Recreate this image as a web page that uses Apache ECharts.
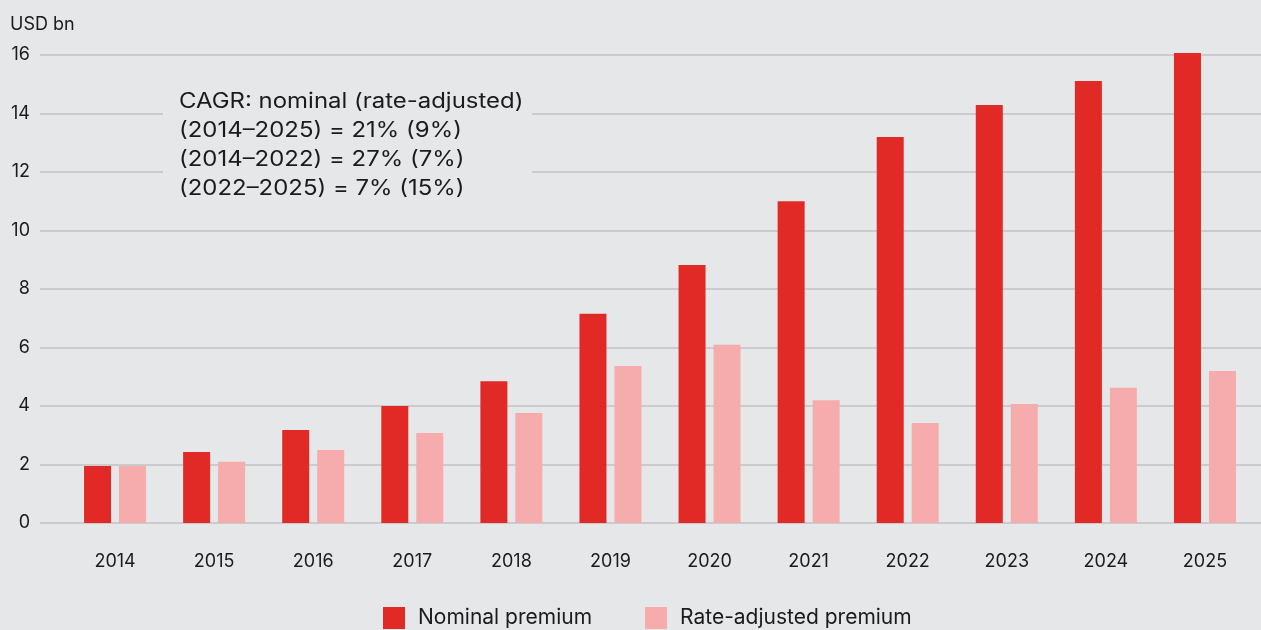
<!DOCTYPE html>
<html>
<head>
<meta charset="utf-8">
<script src="https://cdn.jsdelivr.net/npm/echarts@6/dist/echarts.min.js"></script>
<style>
  html, body { margin: 0; padding: 0; background: #e6e7e9; }
  #chart { width: 1261px; height: 630px; }
</style>
</head>
<body>
<div id="chart"></div>
<script>
// Premium volumes, USD bn
const years = ['2014', '2015', '2016', '2017', '2018', '2019', '2020', '2021', '2022', '2023', '2024', '2025'];
const nominalPremium = [1.95, 2.43, 3.18, 4.0, 4.85, 7.15, 8.82, 11.0, 13.2, 14.29, 15.11, 16.07];
const rateAdjustedPremium = [1.95, 2.09, 2.5, 3.08, 3.76, 5.37, 6.09, 4.2, 3.42, 4.07, 4.62, 5.2];
const seriesNames = ['Nominal premium', 'Rate-adjusted premium'];
const unitLabel = 'USD bn';
const cagrLines = [
  'CAGR: nominal (rate-adjusted)',
  '(2014\u20132025) = 21% (9%)',
  '(2014\u20132022) = 27% (7%)',
  '(2022\u20132025) = 7% (15%)'
];

const BG = '#e6e7e9';
const TEXT = '#1b1b1b';
const FONT = 'Inter';

const chart = echarts.init(document.getElementById('chart'));
chart.setOption({
  backgroundColor: BG,
  animation: false,
  textStyle: { fontFamily: FONT, color: TEXT },
  grid: [
    // bars
    { left: 65.5, right: 6.5, top: 55, bottom: 107 },
    // value scale and gridlines spanning the full width
    { left: 40, right: 0, top: 55, bottom: 107 }
  ],
  xAxis: [
    {
      type: 'category',
      gridIndex: 0,
      data: years,
      axisLine: { show: false },
      axisTick: { show: false },
      axisLabel: { fontSize: 18, color: TEXT, margin: 30, fontFamily: FONT }
    },
    { type: 'value', gridIndex: 1, show: false, min: 0, max: 1 }
  ],
  yAxis: [
    { type: 'value', gridIndex: 0, min: 0, max: 16, interval: 2, show: false },
    {
      type: 'value',
      gridIndex: 1,
      min: 0,
      max: 16,
      interval: 2,
      axisLine: { show: false },
      axisTick: { show: false },
      axisLabel: { fontSize: 18, color: TEXT, margin: 10, fontFamily: FONT },
      splitLine: { lineStyle: { color: '#c2c2c3', width: 1.5 } }
    }
  ],
  legend: {
    data: seriesNames,
    left: 383,
    top: 607,
    padding: 0,
    icon: 'rect',
    itemWidth: 22,
    itemHeight: 22,
    itemGap: 53,
    textStyle: { fontSize: 21, color: TEXT, fontFamily: FONT, padding: [6, 0, 0, 8] }
  },
  series: [
    {
      name: seriesNames[0],
      type: 'bar',
      xAxisIndex: 0,
      yAxisIndex: 0,
      data: nominalPremium,
      barWidth: 27,
      barGap: '29.6%',
      clip: false,
      itemStyle: { color: '#e12a26' },
      z: 3
    },
    {
      name: seriesNames[1],
      type: 'bar',
      xAxisIndex: 0,
      yAxisIndex: 0,
      data: rateAdjustedPremium,
      barWidth: 27,
      clip: false,
      itemStyle: { color: '#f6abad' },
      z: 3
    }
  ],
  graphic: [
    {
      type: 'text',
      left: 10,
      top: 16,
      style: { text: unitLabel, font: '18px ' + FONT, fill: TEXT }
    },
    {
      type: 'rect',
      shape: { x: 163, y: 72, width: 369, height: 136 },
      style: { fill: BG },
      z: 10
    },
    {
      // annotation set in a wide face: slightly stretched horizontally
      type: 'text',
      x: 179,
      y: 87,
      scaleX: 1.14,
      z: 11,
      style: {
        text: cagrLines.join('\n'),
        font: '21px ' + FONT,
        lineHeight: 29,
        fill: TEXT
      }
    }
  ]
});
</script>
</body>
</html>
